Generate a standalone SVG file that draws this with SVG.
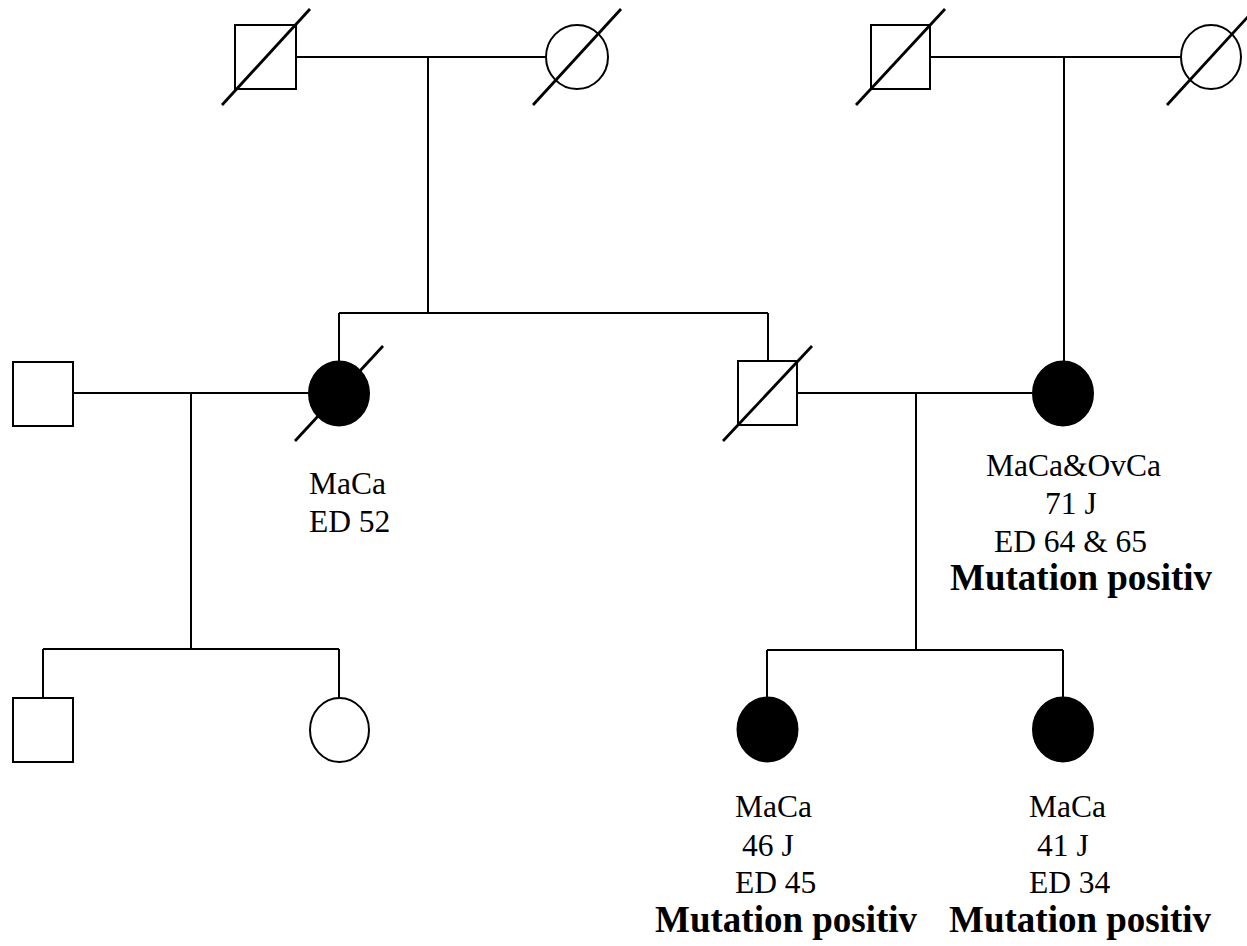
<svg xmlns="http://www.w3.org/2000/svg" width="1247" height="946" viewBox="0 0 1247 946">
<style>
.ln{stroke:#000;stroke-width:2;fill:none}
.sh{stroke:#000;stroke-width:2;fill:#fff}
.af{stroke:#000;stroke-width:2;fill:#000}
.dx{stroke:#000;stroke-width:2.8;fill:none}
.t{font-family:"Liberation Serif","Times New Roman",serif;font-size:31.5px;fill:#000}
.b{font-family:"Liberation Serif","Times New Roman",serif;font-size:37px;font-weight:bold;fill:#000}
</style>
<rect width="1247" height="946" fill="#fff"/>
<g id="connectors">
<path class="ln" d="M296 57H546M428 57V313M339 313H768M339 313V361M768 313V361"/>
<path class="ln" d="M930 57H1181M1064 57V361"/>
<path class="ln" d="M73 393H309M191 393V649M43 649H339M43 649V698M339 649V698"/>
<path class="ln" d="M797 393H1032M916 393V650M767 650H1063M767 650V697M1063 650V697"/>
</g>
<g id="gf-left"><rect class="sh" x="235" y="25" width="61" height="64"/><line class="dx" x1="222" y1="105" x2="310" y2="9"/></g>
<g id="gm-left"><ellipse class="sh" cx="577" cy="57" rx="31" ry="32"/><line class="dx" x1="533" y1="105" x2="621" y2="9"/></g>
<g id="gf-right"><rect class="sh" x="871" y="25" width="59" height="64"/><line class="dx" x1="856" y1="105" x2="945" y2="9"/></g>
<g id="gm-right"><ellipse class="sh" cx="1211" cy="57" rx="30" ry="32"/><line class="dx" x1="1167" y1="105" x2="1255" y2="9"/></g>
<g id="husband-left"><rect class="sh" x="13" y="362" width="60" height="64"/></g>
<g id="aunt"><ellipse class="af" cx="339" cy="393.5" rx="30" ry="32"/><line class="dx" x1="295" y1="441" x2="383" y2="346"/>
<text class="t" x="309" y="494">MaCa</text><text class="t" x="309" y="532">ED 52</text></g>
<g id="father"><rect class="sh" x="738" y="361" width="59" height="64"/><line class="dx" x1="723" y1="441" x2="812" y2="346"/></g>
<g id="mother"><ellipse class="af" cx="1063" cy="393.5" rx="30" ry="32"/>
<text class="t" x="986" y="476">MaCa&amp;OvCa</text><text class="t" x="1045" y="514">71 J</text><text class="t" x="994" y="552">ED 64 &amp; 65</text><text class="b" x="950" y="590">Mutation positiv</text></g>
<g id="cousin-m"><rect class="sh" x="13" y="698" width="60" height="64"/></g>
<g id="cousin-f"><ellipse class="sh" cx="339.5" cy="730" rx="29.5" ry="32"/></g>
<g id="daughter1"><ellipse class="af" cx="767.5" cy="729.5" rx="30" ry="32"/>
<text class="t" x="735" y="817">MaCa</text><text class="t" x="742" y="856">46 J</text><text class="t" x="735" y="893">ED 45</text><text class="b" x="655" y="932">Mutation positiv</text></g>
<g id="daughter2"><ellipse class="af" cx="1063" cy="729.5" rx="30" ry="32"/>
<text class="t" x="1029" y="817">MaCa</text><text class="t" x="1037" y="856">41 J</text><text class="t" x="1029" y="893">ED 34</text><text class="b" x="949" y="932">Mutation positiv</text></g>
</svg>
